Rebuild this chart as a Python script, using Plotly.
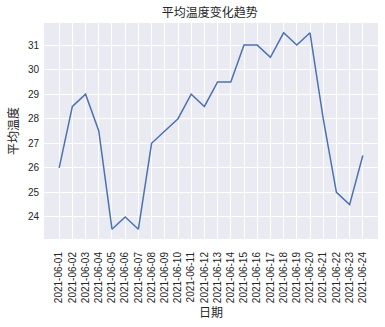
import plotly.graph_objects as go

dates = ["2021-06-%02d" % d for d in range(1, 25)]
temps = [26, 28.5, 29, 27.5, 23.5, 24, 23.5, 27, 27.5, 28, 29, 28.5,
         29.5, 29.5, 31, 31, 30.5, 31.5, 31, 31.5, 28, 25, 24.5, 26.5]
yticks = [24, 25, 26, 27, 28, 29, 30, 31]

cjk = "Noto Sans CJK SC"
lat = "Liberation Sans, Arial, sans-serif"

fig = go.Figure(go.Scatter(x=dates, y=temps, mode="lines",
                           line=dict(color="#4C72B0", width=1.5)))
fig.update_layout(
    width=385, height=327,
    margin=dict(l=44, r=7, t=23, b=88),
    paper_bgcolor="white", plot_bgcolor="#EAEAF2",
    showlegend=False,
    title=dict(text="平均温度变化趋势", x=0.545, xanchor="center", y=0.96, yanchor="middle",
               font=dict(family=cjk, size=12, color="#262626")),
)
fig.update_xaxes(type="category", range=[-1.15, 23 + 1.15], tickangle=-90,
                 showgrid=True, gridcolor="white", gridwidth=1, zeroline=False,
                 showline=False, ticks="", ticklabelstandoff=10,
                 tickfont=dict(family=lat, size=10, color="#262626"),
                 title=dict(text="日期", font=dict(family=cjk, size=12, color="#262626"), standoff=0))
fig.update_yaxes(range=[23.1, 31.9], tickvals=yticks,
                 showgrid=True, gridcolor="white", gridwidth=1, zeroline=False,
                 showline=False, ticks="", ticklabelstandoff=4,
                 tickfont=dict(family=lat, size=10, color="#262626"),
                 title=dict(text="平均温度", font=dict(family=cjk, size=12, color="#262626"), standoff=6))
fig.write_html("out.html")
